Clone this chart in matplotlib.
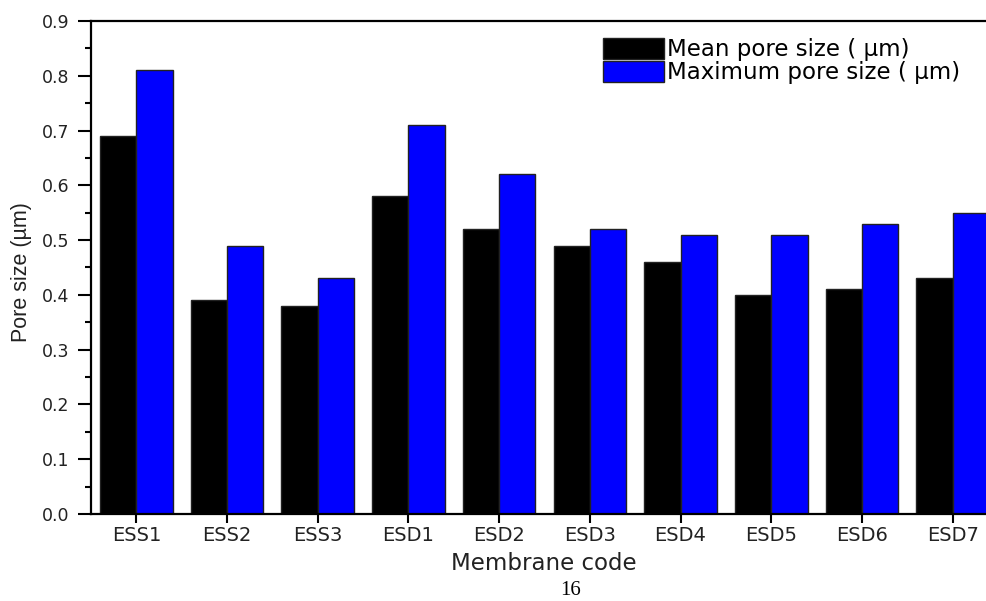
import numpy as np
import matplotlib
matplotlib.use('Agg')
import matplotlib.pyplot as plt

codes = ['ESS1', 'ESS2', 'ESS3', 'ESD1', 'ESD2', 'ESD3', 'ESD4', 'ESD5', 'ESD6', 'ESD7']
mean_pore = [0.69, 0.39, 0.38, 0.58, 0.52, 0.49, 0.46, 0.40, 0.41, 0.43]
max_pore = [0.81, 0.49, 0.43, 0.71, 0.62, 0.52, 0.51, 0.51, 0.53, 0.55]

plt.rcParams['font.family'] = ['DejaVu Sans']

fig = plt.figure(figsize=(9.87, 6.01), dpi=100)
# axes run past the right edge of the figure (reference is cropped there)
ax = fig.add_axes([91 / 987, 87 / 601, 907 / 987, 493 / 601])

x = np.arange(len(codes))
w = 0.4
ax.bar(x - w / 2, mean_pore, w, color='black', edgecolor='#222222', linewidth=1,
       label='Mean pore size ( µm)')
ax.bar(x + w / 2, max_pore, w, color='#0000ff', edgecolor='#222222', linewidth=1,
       label='Maximum pore size ( µm)')

ax.set_xlim(-0.5, 9.5)
ax.set_ylim(0, 0.9)
ax.set_xticks(x)
ax.set_xticklabels(codes, fontsize=14, color='#222222')
yt = np.arange(0, 0.91, 0.1)
ax.set_yticks(yt)
ax.set_yticklabels(['%.1f' % v for v in yt], fontsize=12.5, color='#222222')
ax.set_yticks(np.arange(0.05, 0.9, 0.1), minor=True)
ax.tick_params(axis='x', which='major', direction='out', length=6.5, width=1.5, pad=2)
ax.tick_params(axis='y', which='major', direction='out', length=9.5, width=1.5, pad=6)
ax.tick_params(axis='y', which='minor', direction='out', length=4.5, width=1.5)
for s in ax.spines.values():
    s.set_linewidth(1.6)

ax.set_xlabel('Membrane code', fontsize=16.5, va='center', color='#222222')
ax.xaxis.set_label_coords(0.4995, (514 - 563) / 493)
ax.set_ylabel('Pore size (µm)', fontsize=15.5, family='Liberation Sans',
              va='center', color='#222222')
ax.yaxis.set_label_coords((22 - 91) / 907, 0.49)

ax.legend(loc='upper left', bbox_to_anchor=(603 / 987, 1 - 38 / 601),
          bbox_transform=fig.transFigure, frameon=False, fontsize=16.5,
          handlelength=2.65, handleheight=1.0, handletextpad=0.15,
          labelspacing=0.0, borderaxespad=0, borderpad=0)

fig.text(571 / 987, 1 / 601, '16', family='Liberation Serif', fontsize=15,
         ha='center', va='bottom')

fig.savefig('out.png', dpi=100)
